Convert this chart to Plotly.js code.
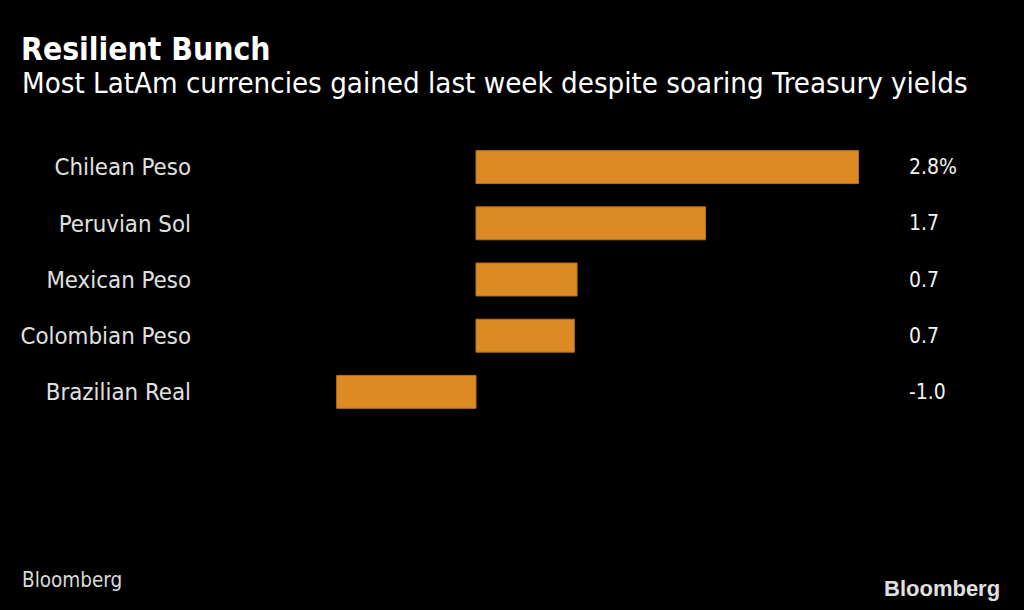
<!DOCTYPE html>
<html>
<head>
<meta charset="utf-8">
<script src="https://cdn.plot.ly/plotly-3.0.1.min.js"></script>
<style>html,body{margin:0;padding:0;background:#000;}#chart{width:1024px;height:610px;}</style>
</head>
<body>
<div id="chart"></div>
<script>
const currencies = ["Chilean Peso", "Peruvian Sol", "Mexican Peso", "Colombian Peso", "Brazilian Real"];
const weeklyChange = [2.8, 1.68, 0.74, 0.72, -1.02];
const valueLabels = ["2.8%", "1.7", "0.7", "0.7", "-1.0"];

const FONT = "DejaVu Sans Condensed, DejaVu Sans, sans-serif";

const trace = {
  type: "bar",
  orientation: "h",
  y: currencies,
  x: weeklyChange,
  width: 0.586,
  marker: {color: "#dc8a23", line: {color: "#b8711a", width: 1}},
  hoverinfo: "skip"
};

const annotations = currencies.map((c, i) => ({
  xref: "paper", yref: "y", x: 1.0392, y: c,
  xanchor: "left", yanchor: "middle",
  text: valueLabels[i], showarrow: false,
  font: {family: FONT, size: 21, color: "#f2f2f2"}
}));

annotations.push({
  xref: "paper", yref: "paper", x: -0.2500, y: 1.199,
  xanchor: "left", yanchor: "middle", showarrow: false,
  text: "Most LatAm currencies gained last week despite soaring Treasury yields",
  font: {family: FONT, size: 29.2, color: "#ffffff"}
});
annotations.push({
  xref: "paper", yref: "paper", x: -0.2500, y: -0.569,
  xanchor: "left", yanchor: "middle", showarrow: false,
  text: "Bloomberg",
  font: {family: FONT, size: 20.5, color: "#d9d9d9"}
});
annotations.push({
  xref: "paper", yref: "paper", x: 1.1773, y: -0.598,
  xanchor: "right", yanchor: "middle", showarrow: false,
  text: "<b>Bloomberg</b>",
  font: {family: "Liberation Sans Narrow, Arial Narrow, sans-serif", size: 22, color: "#e0e0e0"}
});

const layout = {
  width: 1024, height: 610,
  paper_bgcolor: "#000000", plot_bgcolor: "#000000",
  margin: {l: 192, r: 144, t: 139, b: 190},
  showlegend: false,
  title: {
    text: "<b>Resilient Bunch</b>",
    x: 21/1024, xanchor: "left", xref: "container",
    y: 1 - 49/610, yanchor: "middle", yref: "container",
    font: {family: FONT, size: 31.6, color: "#ffffff"}
  },
  xaxis: {
    range: [-2.079, 2.9575],
    showgrid: false, zeroline: false, showticklabels: false, showline: false, ticks: ""
  },
  yaxis: {
    autorange: "reversed",
    showgrid: false, zeroline: false, showline: false, ticks: "",
    tickfont: {family: FONT, size: 23.8, color: "#e0e0e0"}
  },
  annotations: annotations
};

Plotly.newPlot("chart", [trace], layout, {displayModeBar: false, staticPlot: true});
</script>
</body>
</html>
